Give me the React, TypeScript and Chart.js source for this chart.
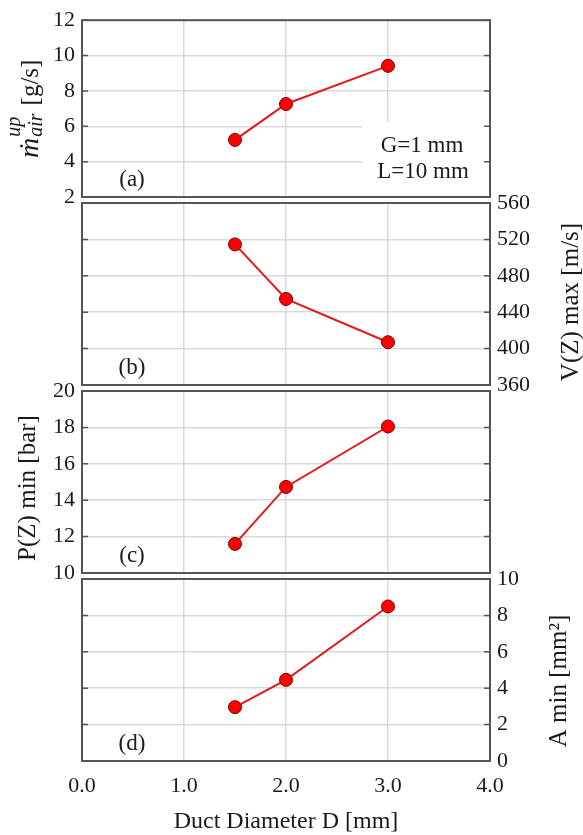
import React, { useEffect, useRef } from "react";
import { Chart, registerables } from "chart.js";

Chart.register(...registerables);

// ---------- data ----------
const diameters = [1.5, 2.0, 3.0];
const airMassFlow = [5.23, 7.26, 9.42];
const maxVelocity = [514.5, 454.5, 407];
const minPressure = [11.6, 14.73, 18.05];
const minArea = [2.96, 4.46, 8.49];

const xTickValues = [0, 1, 2, 3, 4];
const airTicks = [2, 4, 6, 8, 10, 12];
const velocityTicks = [360, 400, 440, 480, 520, 560];
const pressureTicks = [10, 12, 14, 16, 18, 20];
const areaTicks = [0, 2, 4, 6, 8, 10];

const panelLetters = ["(a)", "(b)", "(c)", "(d)"];
const annotationLines = ["G=1 mm", "L=10 mm"];
const xTitle = "Duct Diameter D [mm]";
const yTitles = ["[g/s]", "V(Z) max [m/s]", "P(Z) min [bar]", "A min [mm²]"];

// ---------- layout / style ----------
const W = 583;
const H = 835;
const PLOT_LEFT = 82;
const PLOT_RIGHT = 490;
const SERIF = "'Liberation Serif', 'DejaVu Serif', serif";
const TEXT = "#1a1a1a";
const GRID = "#d9d9d9";
const FRAME = "#555555";

type Panel = {
  top: number;
  bottom: number;
  side: "left" | "right";
  ticks: number[];
  values: number[];
  titleX: number;
  titleY: number;
};

const panels: Panel[] = [
  { top: 15, bottom: 197, side: "left", ticks: airTicks, values: airMassFlow, titleX: 38, titleY: 158 },
  { top: 203, bottom: 385, side: "right", ticks: velocityTicks, values: maxVelocity, titleX: 571, titleY: 302 },
  { top: 391, bottom: 573, side: "left", ticks: pressureTicks, values: minPressure, titleX: 28, titleY: 488 },
  { top: 579, bottom: 761, side: "right", ticks: areaTicks, values: minArea, titleX: 559, titleY: 681 },
];

function drawTitleA(ctx: CanvasRenderingContext2D, x: number, y: number) {
  ctx.save();
  ctx.translate(x, y);
  ctx.rotate(-Math.PI / 2);
  ctx.fillStyle = TEXT;
  ctx.textBaseline = "alphabetic";
  ctx.textAlign = "left";
  ctx.font = `italic 28px ${SERIF}`;
  ctx.fillText("ṁ", 0, 0);
  const mW = ctx.measureText("ṁ").width;
  ctx.font = `italic 20px ${SERIF}`;
  const supW = ctx.measureText("up").width;
  const subW = ctx.measureText("air").width;
  ctx.fillText("up", mW + 1, -18);
  ctx.fillText("air", mW + 1, 4);
  ctx.font = `25px ${SERIF}`;
  ctx.fillText("[g/s]", mW + Math.max(supW, subW) + 9, 0);
  ctx.restore();
}

function drawRotated(ctx: CanvasRenderingContext2D, text: string, x: number, y: number) {
  ctx.save();
  ctx.translate(x, y);
  ctx.rotate(-Math.PI / 2);
  ctx.fillStyle = TEXT;
  ctx.font = `25px ${SERIF}`;
  ctx.textAlign = "center";
  ctx.textBaseline = "middle";
  ctx.fillText(text, 0, 0);
  ctx.restore();
}

function makeDecor(idx: number) {
  const p = panels[idx];
  return {
    id: "decor" + idx,
    beforeDatasetsDraw(chart: any) {
      if (idx !== 0) return;
      const { ctx, chartArea: a } = chart;
      ctx.save();
      ctx.fillStyle = "#ffffff";
      ctx.fillRect(362, 122, a.right - 362, a.bottom - 122);
      ctx.restore();
    },
    afterDraw(chart: any) {
      const { ctx, chartArea: a } = chart;
      const ys = chart.scales.y;
      ctx.save();
      // inward tick marks on both sides
      ctx.strokeStyle = FRAME;
      ctx.lineWidth = 1.5;
      ys.ticks.forEach((t: any) => {
        const py = ys.getPixelForValue(t.value);
        ctx.beginPath();
        ctx.moveTo(a.left, py);
        ctx.lineTo(a.left + 6, py);
        ctx.moveTo(a.right - 6, py);
        ctx.lineTo(a.right, py);
        ctx.stroke();
      });
      // frame
      ctx.strokeStyle = FRAME;
      ctx.lineWidth = 2;
      ctx.strokeRect(a.left, a.top, a.right - a.left, a.bottom - a.top);
      // panel letter
      ctx.fillStyle = TEXT;
      ctx.font = `23px ${SERIF}`;
      ctx.textAlign = "center";
      ctx.textBaseline = "middle";
      ctx.fillText(panelLetters[idx], 132, a.bottom - 17);
      // annotation in panel (a)
      if (idx === 0) {
        ctx.fillText(annotationLines[0], 422, 146);
        ctx.fillText(annotationLines[1], 423, 172);
      }
      // axis titles
      if (idx === 0) {
        drawTitleA(ctx, p.titleX, p.titleY);
      } else {
        drawRotated(ctx, yTitles[idx], p.titleX, p.titleY);
      }
      if (idx === 3) {
        ctx.fillStyle = TEXT;
        ctx.font = `24px ${SERIF}`;
        ctx.textAlign = "center";
        ctx.textBaseline = "alphabetic";
        ctx.fillText(xTitle, (a.left + a.right) / 2, 828);
      }
      ctx.restore();
    },
  };
}

function buildChart(canvas: HTMLCanvasElement, idx: number) {
  const p = panels[idx];
  const isLast = idx === panels.length - 1;
  const points = diameters.map((d, i) => ({ x: d, y: p.values[i] }));
  return new Chart(canvas, {
    type: "line",
    data: {
      datasets: [
        {
          data: points,
          borderColor: "#e3191c",
          borderWidth: 2,
          backgroundColor: "#ff0000",
          pointBackgroundColor: "#ff0000",
          pointBorderColor: "#7a0000",
          pointBorderWidth: 1,
          pointRadius: 6.5,
          tension: 0,
          fill: false,
        },
      ],
    },
    options: {
      responsive: false,
      animation: false,
      devicePixelRatio: 1,
      events: [],
      layout: {
        padding: {
          top: p.top,
          bottom: 0,
          left: p.side === "left" ? 0 : PLOT_LEFT,
          right: p.side === "right" ? 0 : W - PLOT_RIGHT,
        },
      },
      plugins: { legend: { display: false }, tooltip: { enabled: false }, title: { display: false } },
      scales: {
        x: {
          type: "linear",
          position: "bottom",
          min: xTickValues[0],
          max: xTickValues[xTickValues.length - 1],
          afterBuildTicks: (s: any) => {
            s.ticks = xTickValues.map((v) => ({ value: v }));
          },
          afterFit: (s: any) => {
            s.height = H - p.bottom;
          },
          grid: { color: GRID, lineWidth: 1.5, drawTicks: false },
          border: { display: false },
          ticks: {
            display: isLast,
            padding: 12,
            color: TEXT,
            font: { family: SERIF, size: 22 },
            maxRotation: 0,
            autoSkip: false,
            callback: (v: any) => Number(v).toFixed(1),
          },
        },
        y: {
          type: "linear",
          position: p.side,
          min: p.ticks[0],
          max: p.ticks[p.ticks.length - 1],
          afterBuildTicks: (s: any) => {
            s.ticks = p.ticks.map((v) => ({ value: v }));
          },
          afterFit: (s: any) => {
            s.width = p.side === "left" ? PLOT_LEFT : W - PLOT_RIGHT;
          },
          grid: { color: GRID, lineWidth: 1.5, drawTicks: false },
          border: { display: false },
          ticks: {
            padding: 7,
            color: TEXT,
            font: { family: SERIF, size: 22 },
            autoSkip: false,
            callback: (v: any) => String(v),
          },
        },
      },
    },
    plugins: [makeDecor(idx)],
  } as any);
}

export default function App() {
  const refs = [useRef<HTMLCanvasElement>(null), useRef<HTMLCanvasElement>(null), useRef<HTMLCanvasElement>(null), useRef<HTMLCanvasElement>(null)];
  useEffect(() => {
    const charts = refs.map((r, i) => buildChart(r.current as HTMLCanvasElement, i));
    return () => charts.forEach((c) => c.destroy());
  }, []);
  return (
    <div style={{ position: "absolute", left: 0, top: 0, width: W, height: H, background: "#fff" }}>
      {refs.map((r, i) => (
        <canvas
          key={i}
          ref={r}
          width={W}
          height={H}
          style={{ position: "absolute", left: 0, top: 0, width: W, height: H, pointerEvents: "none" }}
        />
      ))}
    </div>
  );
}
